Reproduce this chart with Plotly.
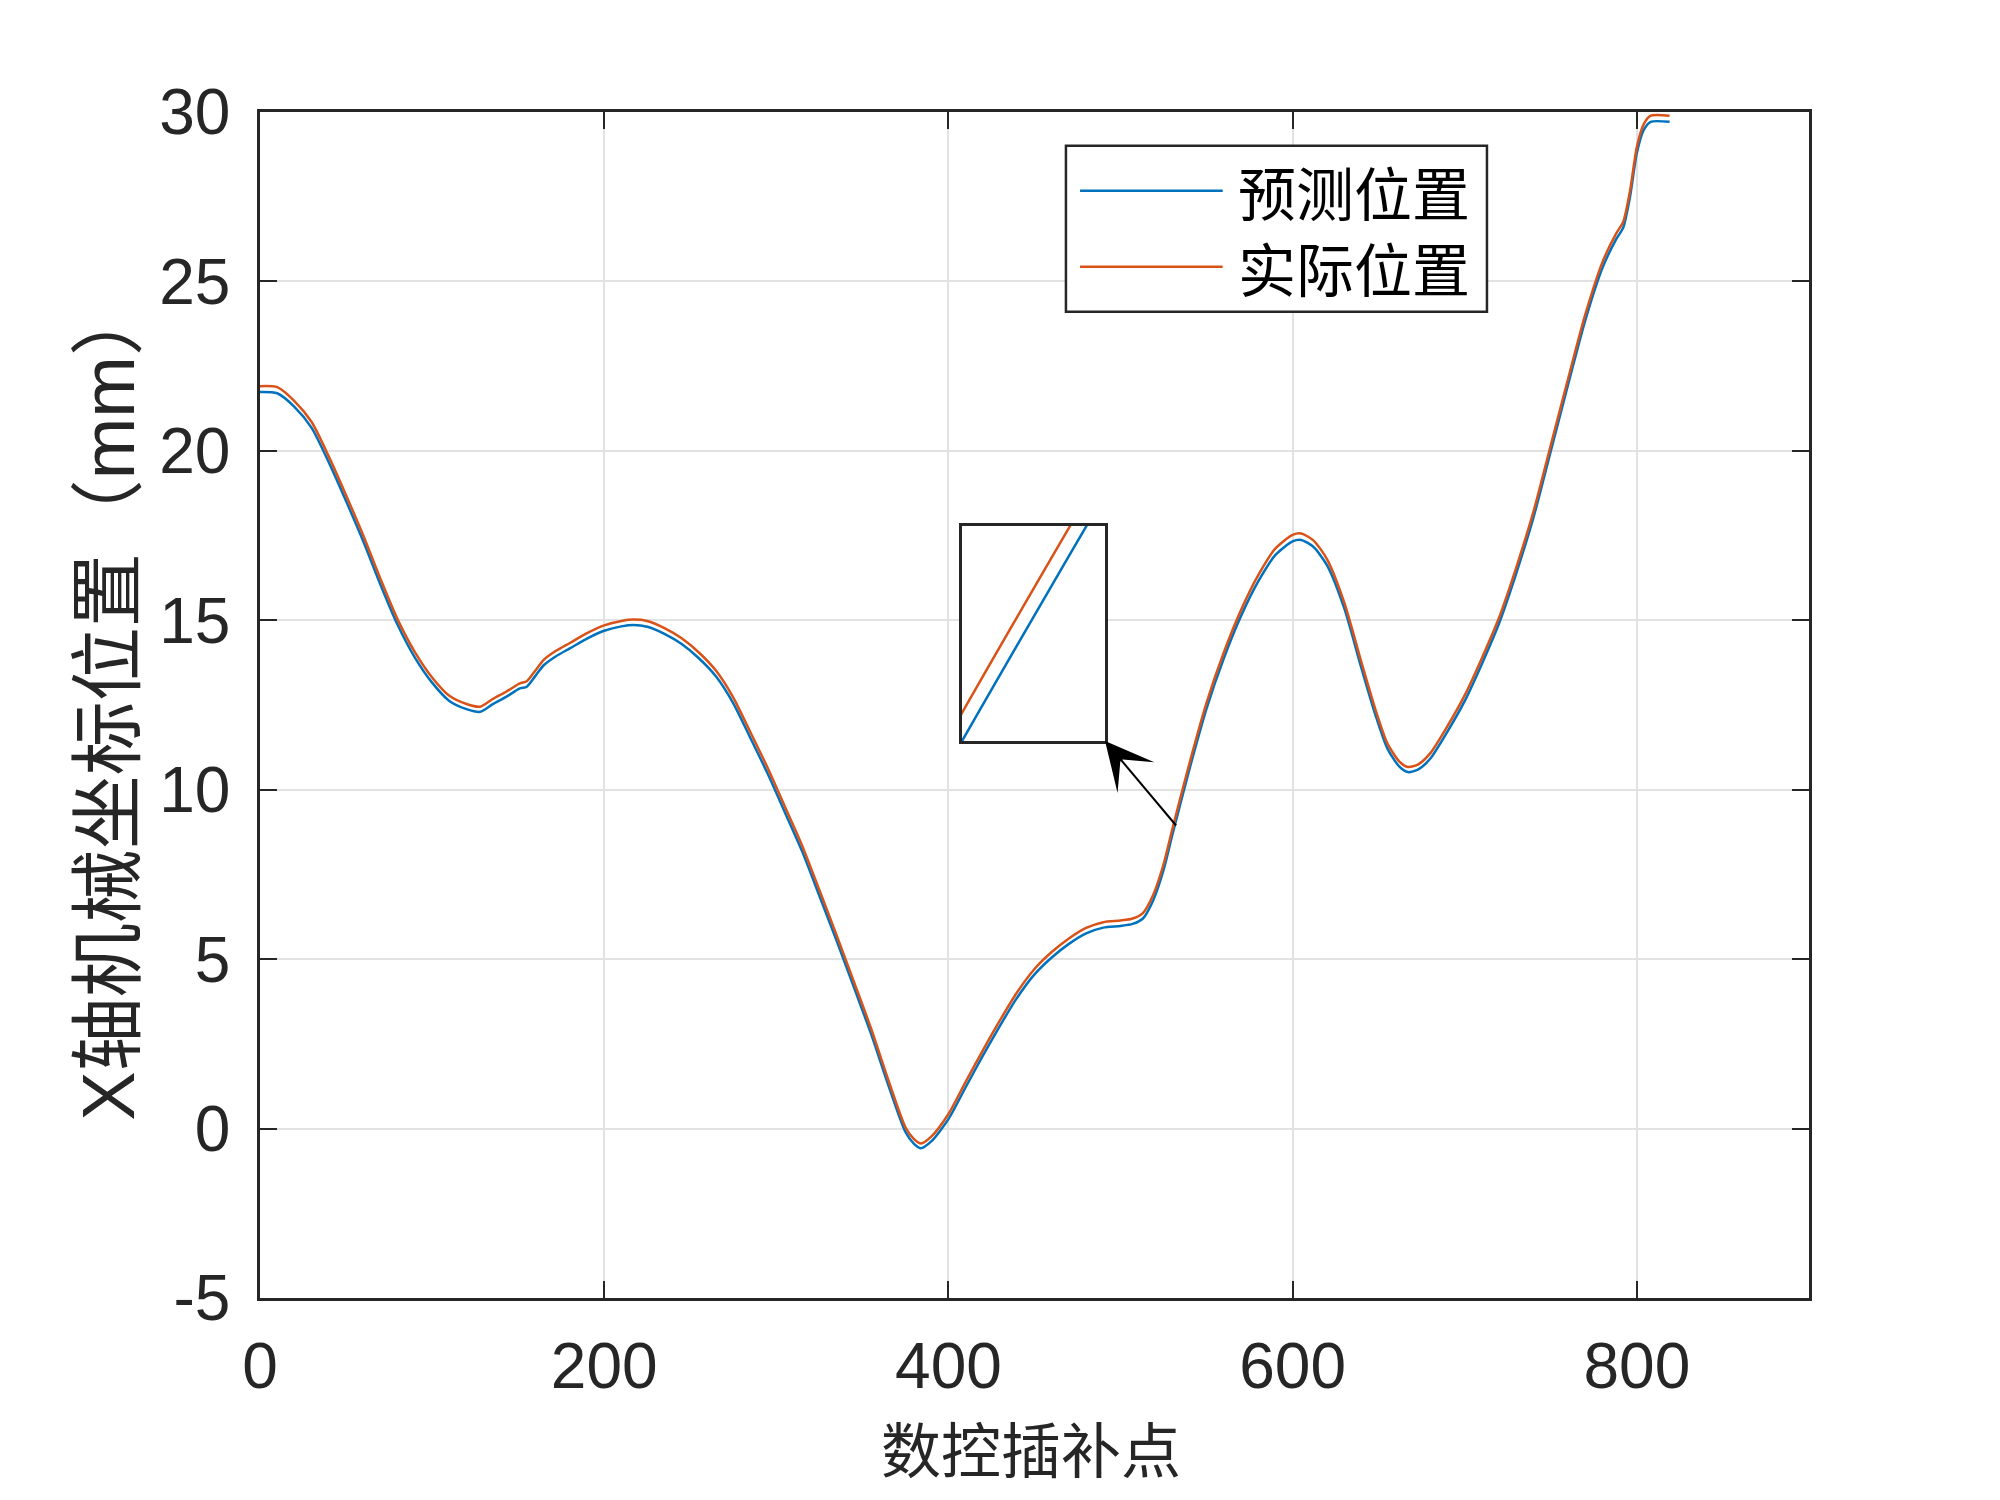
import plotly.graph_objects as go

# ---- data ----
x_pts = [0, 10, 20, 30, 40, 50, 60, 70, 80, 90, 100, 110, 120, 128, 135, 143, 151, 155, 160, 165,
         172, 180, 190, 200, 210, 217, 225, 235, 245, 255, 265, 275, 285, 295, 305, 315, 325, 335,
         345, 355, 365, 375, 380, 384, 390, 400, 410, 420, 430, 440, 450, 460, 470, 480, 490, 500,
         507, 513, 519, 525, 530, 540, 550, 560, 570, 580, 590, 600, 605, 612, 620, 630, 640, 648,
         655, 662, 667, 673, 680, 690, 700, 710, 720, 730, 740, 750, 760, 770, 780, 788, 792, 796,
         800, 804, 808, 819]

predicted = [21.74, 21.70, 21.30, 20.68, 19.66, 18.52, 17.33, 16.05, 14.86, 13.90, 13.16, 12.62,
             12.38, 12.30, 12.52, 12.74, 12.99, 13.04, 13.36, 13.68, 13.94, 14.17, 14.46, 14.69,
             14.82, 14.86, 14.81, 14.60, 14.30, 13.88, 13.34, 12.55, 11.52, 10.47, 9.33, 8.18,
             6.87, 5.55, 4.18, 2.80, 1.29, -0.10, -0.45, -0.58, -0.38, 0.28, 1.22, 2.15, 3.04,
             3.87, 4.55, 5.05, 5.45, 5.76, 5.93, 5.98, 6.04, 6.20, 6.74, 7.63, 8.65, 10.60, 12.40,
             13.88, 15.13, 16.15, 16.93, 17.33, 17.37, 17.17, 16.62, 15.35, 13.58, 12.22, 11.22,
             10.68, 10.52, 10.60, 10.92, 11.72, 12.62, 13.72, 14.92, 16.40, 18.05, 20.00, 21.95,
             23.85, 25.40, 26.25, 26.58, 27.50, 28.80, 29.47, 29.71, 29.71]

actual = [21.91, 21.88, 21.47, 20.85, 19.83, 18.69, 17.50, 16.22, 15.02, 14.06, 13.31, 12.77,
          12.53, 12.45, 12.67, 12.89, 13.14, 13.20, 13.52, 13.84, 14.10, 14.33, 14.62, 14.85,
          14.98, 15.02, 14.98, 14.77, 14.47, 14.05, 13.51, 12.72, 11.69, 10.64, 9.50, 8.35,
          7.04, 5.71, 4.34, 2.96, 1.44, 0.04, -0.31, -0.44, -0.24, 0.43, 1.38, 2.31, 3.20,
          4.03, 4.71, 5.21, 5.61, 5.92, 6.09, 6.14, 6.20, 6.36, 6.90, 7.80, 8.82, 10.77, 12.57,
          14.05, 15.30, 16.33, 17.12, 17.52, 17.56, 17.36, 16.80, 15.52, 13.75, 12.38, 11.37,
          10.83, 10.67, 10.75, 11.08, 11.88, 12.79, 13.89, 15.09, 16.57, 18.22, 20.17, 22.12,
          24.02, 25.57, 26.42, 26.75, 27.67, 28.97, 29.64, 29.89, 29.89]

series_names = ["预测位置", "实际位置"]
x_tick_vals = [0, 200, 400, 600, 800]
x_tick_text = ["0", "200", "400", "600", "800"]
y_tick_vals = [-5, 0, 5, 10, 15, 20, 25, 30]
y_tick_text = ["-5", "0", "5", "10", "15", "20", "25", "30"]
x_title = "数控插补点"
y_title = "X轴机械坐标位置（mm）"

# ---- styling ----
BLUE = "#0072BD"
ORANGE = "#D95319"
AX = "#262626"
GRID = "#e2e2e2"
LATIN = "Liberation Sans, Arial, Noto Sans CJK SC"
CJK = "Noto Sans CJK SC, Liberation Sans"

fig = go.Figure()
for ys, col, nm in [(predicted, BLUE, series_names[0]), (actual, ORANGE, series_names[1])]:
    fig.add_trace(go.Scatter(x=x_pts, y=ys, mode="lines", name=nm,
                             line=dict(color=col, width=2.5, shape="spline", smoothing=0.7),
                             xaxis="x", yaxis="y", showlegend=False))
# inset (zoomed view of the same data)
for ys, col, nm in [(predicted, BLUE, series_names[0]), (actual, ORANGE, series_names[1])]:
    fig.add_trace(go.Scatter(x=x_pts, y=ys, mode="lines", name=nm,
                             line=dict(color=col, width=2.5, shape="spline", smoothing=0.7),
                             xaxis="x2", yaxis="y2", showlegend=False, hoverinfo="skip"))

axis_common = dict(
    ticks="inside", ticklen=17, tickwidth=2, tickcolor=AX,
    showline=True, linecolor=AX, linewidth=2.5, mirror="ticks",
    showgrid=True, gridcolor=GRID, gridwidth=1.5, zeroline=False,
    tickfont=dict(family=LATIN, size=64, color=AX),
)

inset_axis = dict(showticklabels=False, ticks="", showgrid=False, zeroline=False,
                  showline=True, mirror=True, linecolor=AX, linewidth=2.5)

fig.update_layout(
    width=1984, height=1484,
    margin=dict(l=252, r=183, t=104, b=194),
    paper_bgcolor="white", plot_bgcolor="white",
    showlegend=False,
    xaxis=dict(domain=[0, 1], range=[0, 900], tickvals=x_tick_vals, ticktext=x_tick_text,
               ticklabelstandoff=10, **axis_common),
    yaxis=dict(domain=[0, 1], range=[-5, 30], tickvals=y_tick_vals, ticktext=y_tick_text,
               ticklabelstandoff=14, **axis_common),
    xaxis2=dict(domain=[0.4532, 0.5455], anchor="y2", range=[530, 537.6], **inset_axis),
    yaxis2=dict(domain=[0.4696, 0.6509], anchor="x2", range=[8.65, 9.95], **inset_axis),
)

# axis titles
fig.add_annotation(text=y_title, xref="paper", yref="paper", x=-0.098, y=0.503,
                   textangle=-90, showarrow=False, xanchor="center", yanchor="middle",
                   font=dict(family=LATIN, size=74, color=AX))
fig.add_annotation(text=x_title, xref="paper", yref="paper", x=0.498, y=-0.1248,
                   showarrow=False, xanchor="center", yanchor="middle",
                   font=dict(family=CJK, size=60, color=AX))

# arrow from the curve to the inset
fig.add_annotation(x=491, y=11.44, xref="x", yref="y", ax=533, ay=8.9, axref="x", ayref="y",
                   text="", showarrow=True, arrowhead=3, arrowsize=4, arrowwidth=2,
                   arrowcolor="black")

# legend box (drawn manually to match the long MATLAB sample lines)
fig.add_shape(type="rect", xref="paper", yref="paper", x0=0.5203, x1=0.7921, y0=0.8316, y1=0.9716,
              fillcolor="white", line=dict(color=AX, width=2.5), layer="above")
legend_rows = [(0.9336, BLUE, series_names[0]), (0.8696, ORANGE, series_names[1])]
for yy, col, nm in legend_rows:
    fig.add_shape(type="line", xref="paper", yref="paper", x0=0.5294, x1=0.6215, y0=yy, y1=yy,
                  line=dict(color=col, width=2.5), layer="above")
    fig.add_annotation(text=nm, xref="paper", yref="paper", x=0.6301, y=yy, showarrow=False,
                       xanchor="left", yanchor="middle",
                       font=dict(family=CJK, size=58, color="black"))

fig.write_html("out.html")
